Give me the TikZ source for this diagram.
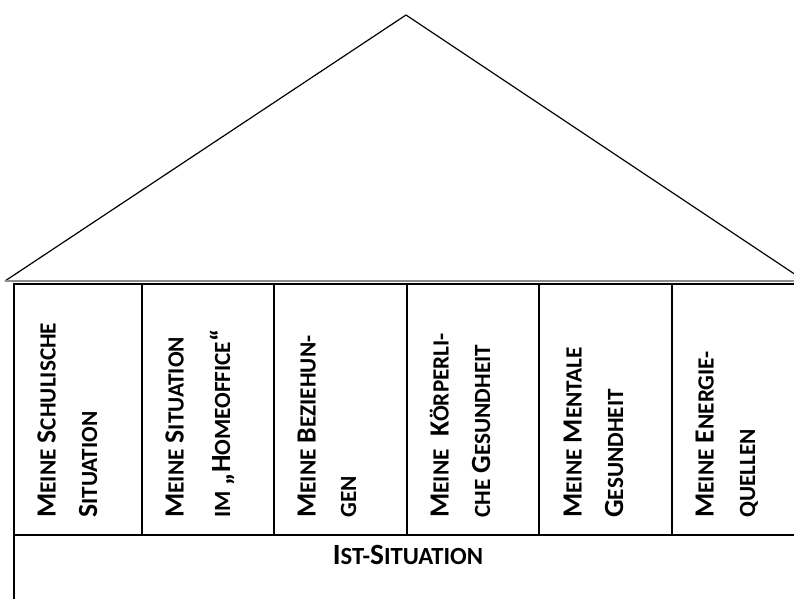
\documentclass[tikz,border=0pt]{standalone}
\usepackage{fontspec}
\setmainfont{Carlito}
% faked small capitals: lower-case letters set as smaller capitals
\newcommand\sk[1]{{\fontsize{17.4pt}{18pt}\selectfont #1}}
\newcommand\skb[1]{{\fontsize{18.5pt}{19pt}\selectfont #1}}
\tikzset{
  pillartext/.style={rotate=90, anchor=base west, inner sep=0pt,
    font=\fontsize{20.8pt}{22pt}\selectfont\bfseries},
  basetext/.style={anchor=base, inner sep=0pt,
    font=\fontsize{22pt}{24pt}\selectfont\bfseries},
  frame/.style={line width=1.5pt, line cap=rect},
  roofline/.style={line width=0.9pt, line join=miter},
  eave/.style={line width=0.8pt, black!45}
}
\begin{document}
\begin{tikzpicture}[x=0.75pt,y=-0.75pt]
\useasboundingbox (0,0) rectangle (794,599);
\clip (0,0) rectangle (794,599);

% roof
\coordinate (apex) at (406,15);
\coordinate (eaveL) at (5,281);
\coordinate (eaveR) at (805,281);
\draw[roofline] (eaveL) -- (apex) -- (eaveR);
\draw[eave] (eaveL) -- (eaveR);

% house body: outer frame, pillar row and base row
\coordinate (tl) at (14,284.5);
\coordinate (tr) at (812,284.5);
\coordinate (bl) at (14,612);
\coordinate (ml) at (14,535.5);
\coordinate (mr) at (812,535.5);
\draw[frame] (bl) -- (tl) -- (tr);
\draw[frame] (ml) -- (mr);
\foreach \x in {142,274,407,539,672}
  \draw[frame] (\x,284.5) -- (\x,535.5);

% pillar labels
\node[pillartext] (p1a) at (55.5,518) {M\sk{EINE} S\sk{CHULISCHE}};
\node[pillartext] (p1b) at (97,518) {S\sk{ITUATION}};
\node[pillartext] (p2a) at (183.5,518) {M\sk{EINE} S\sk{ITUATION}};
\node[pillartext] (p2b) at (230,518) {\sk{IM} „H\sk{OMEOFFICE}“};
\node[pillartext] (p3a) at (315.5,518) {M\sk{EINE} B\sk{EZIEHUN-}};
\node[pillartext] (p3b) at (356,518) {\sk{GEN}};
\node[pillartext] (p4a) at (448.5,518) {M\sk{EINE}\ \ K\sk{ÖRPERLI-}};
\node[pillartext] (p4b) at (490,518) {\sk{CHE} G\sk{ESUNDHEIT}};
\node[pillartext] (p5a) at (581.5,518) {M\sk{EINE} M\sk{ENTALE}};
\node[pillartext] (p5b) at (623,518) {G\sk{ESUNDHEIT}};
\node[pillartext] (p6a) at (713.5,518) {M\sk{EINE} E\sk{NERGIE-}};
\node[pillartext] (p6b) at (755,518) {\sk{QUELLEN}};

% base label
\node[basetext] (ist) at (408,565) {I\skb{ST-}S\skb{ITUATION}};
\end{tikzpicture}
\end{document}
